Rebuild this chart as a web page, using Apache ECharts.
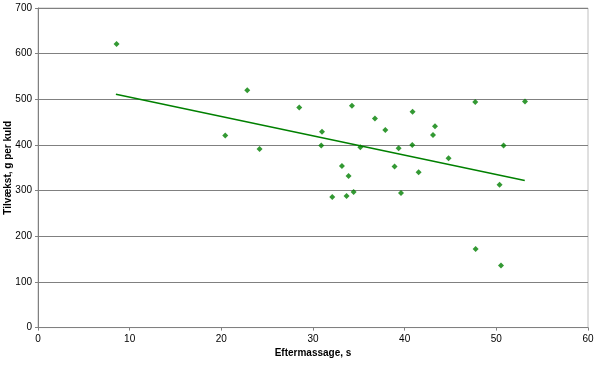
<!DOCTYPE html>
<html>
<head>
<meta charset="utf-8">
<script src="https://cdn.jsdelivr.net/npm/echarts@6/dist/echarts.min.js"></script>
<style>html,body{margin:0;padding:0;background:#fff}#c{width:600px;height:365px}</style>
</head>
<body>
<div id="c"></div>
<script>
var xValues = [8.57,22.83,20.43,24.17,28.50,30.98,30.90,34.25,36.76,37.89,35.16,39.34,33.16,33.88,32.10,33.66,34.43,38.90,39.60,47.70,53.13,40.86,43.31,43.09,40.83,50.79,41.52,44.79,50.35,47.74,50.51];
var yValues = [621,520,421,391,482,429,399,486,458,433,395,393,354,332,286,288,297,353,295,494,495,473,441,422,400,399,340,371,313,172,136];
var trendX = [8.5, 53.1];
var trendY = [511, 322];
var xTicks = [0,10,20,30,40,50,60];
var yTicks = [0,100,200,300,400,500,600,700];

var pts = xValues.map(function(x,i){return [x,yValues[i]];});
var trend = trendX.map(function(x,i){return [x,trendY[i]];});

var chart = echarts.init(document.getElementById('c'), null, {renderer:'canvas'});
var labelStyle = {color:'#000', fontFamily:'Arial, Liberation Sans, sans-serif', fontSize:10};
chart.setOption({
  animation:false,
  backgroundColor:'#fff',
  grid:{left:38, right:12, top:8, bottom:37.4, show:true, borderColor:'#c0c0c0', borderWidth:1, containLabel:false, outerBoundsMode:'none'},
  xAxis:{
    type:'value', min:xTicks[0], max:xTicks[xTicks.length-1], interval:10,
    name:'Eftermassage, s', nameLocation:'middle', nameGap:21, nameMoveOverlap:false,
    nameTextStyle:{fontFamily:'Arial, Liberation Sans, sans-serif', fontSize:10, fontWeight:'bold', color:'#000'},
    axisLine:{show:true, onZero:false, lineStyle:{color:'#808080', width:1}},
    axisTick:{show:true, length:3, inside:false, lineStyle:{color:'#808080'}},
    axisLabel:Object.assign({margin:7}, labelStyle),
    splitLine:{show:false}
  },
  yAxis:{
    type:'value', min:yTicks[0], max:yTicks[yTicks.length-1], interval:100,
    name:'Tilvækst, g per kuld', nameLocation:'middle', nameGap:25, nameMoveOverlap:false,
    nameTextStyle:{fontFamily:'Arial, Liberation Sans, sans-serif', fontSize:10, fontWeight:'bold', color:'#000'},
    axisLine:{show:true, onZero:false, lineStyle:{color:'#808080', width:1}},
    axisTick:{show:true, length:3, inside:false, lineStyle:{color:'#808080'}},
    axisLabel:Object.assign({margin:6}, labelStyle),
    splitLine:{show:true, lineStyle:{color:'#808080', width:1}}
  },
  series:[
    {type:'scatter', data:pts, symbol:'diamond', symbolSize:6, itemStyle:{color:'#008000'}, z:3},
    {type:'line', data:trend, symbol:'none', lineStyle:{color:'#008000', width:1.5}, z:2}
  ]
});
</script>
</body>
</html>
